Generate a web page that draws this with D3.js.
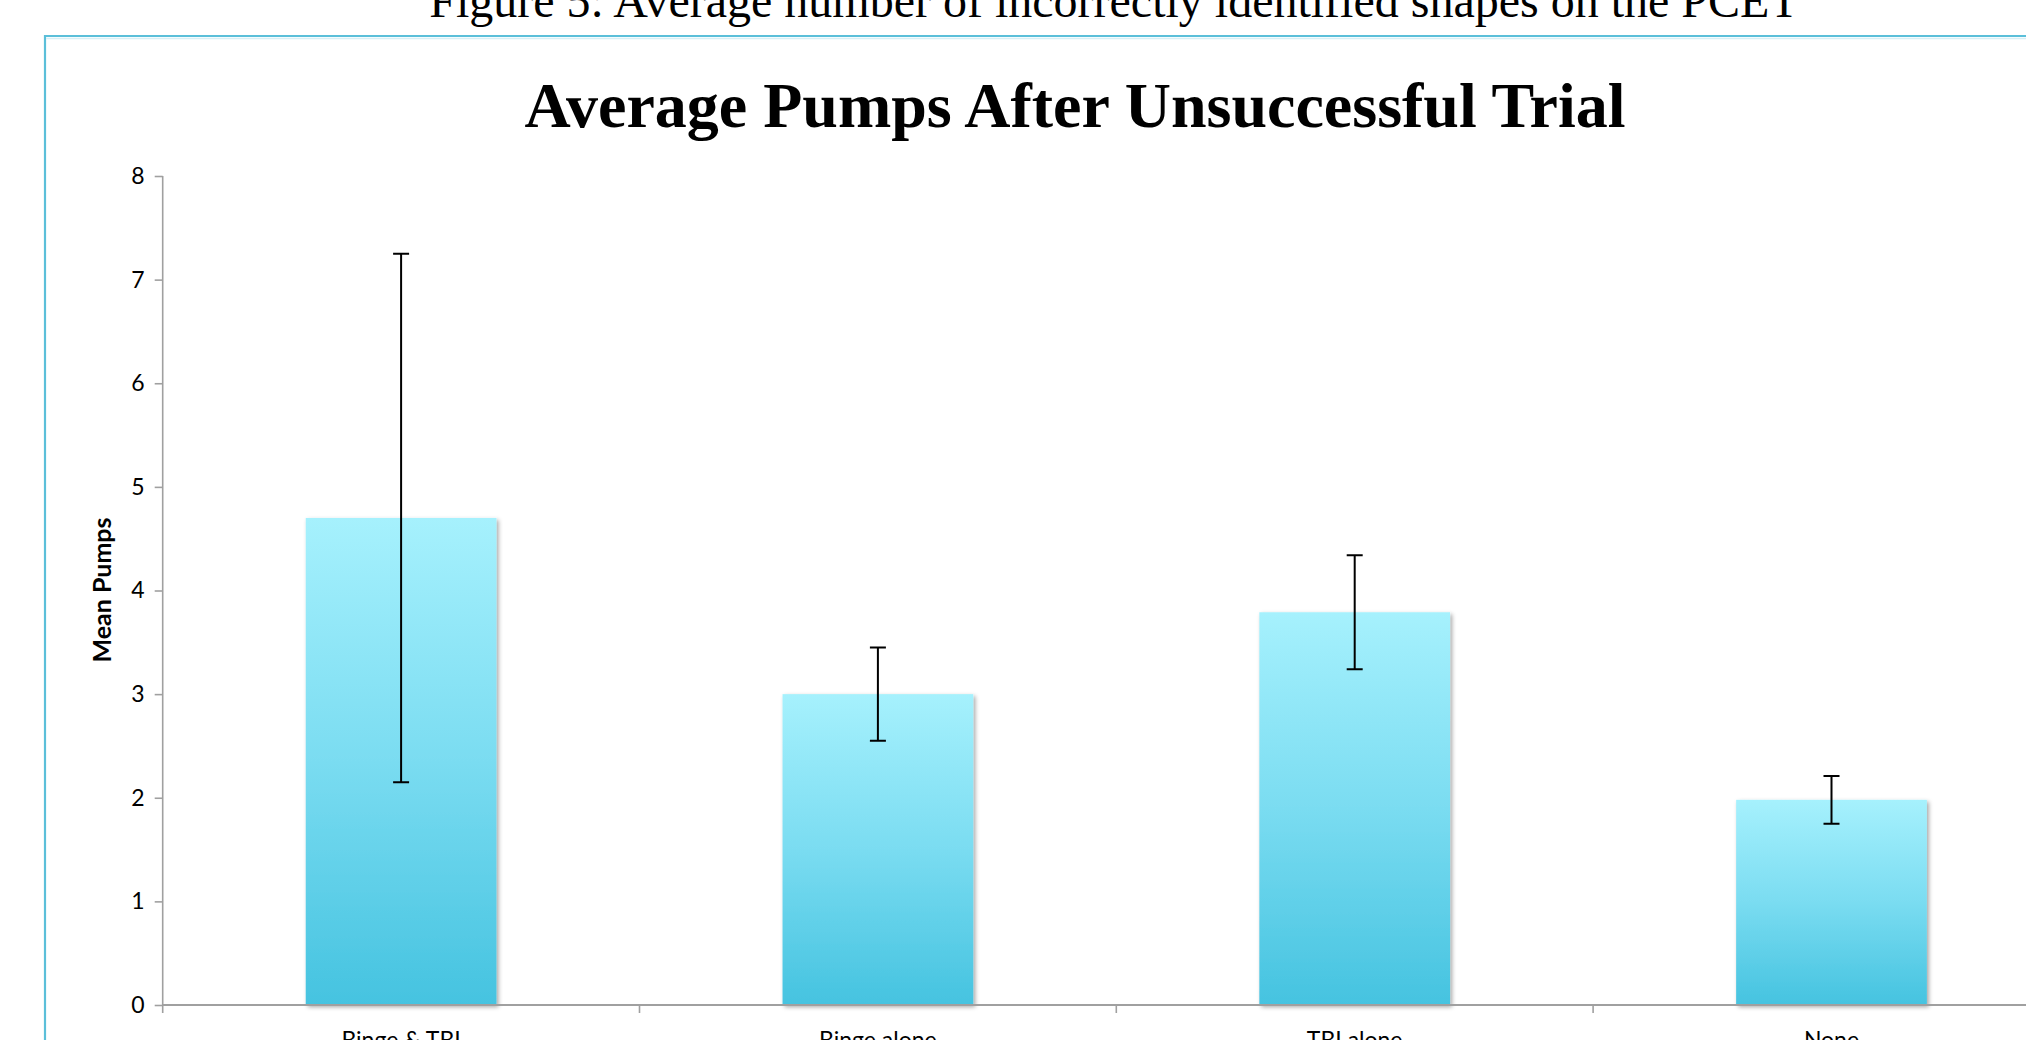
<!DOCTYPE html>
<html>
<head>
<meta charset="utf-8">
<script src="https://cdn.jsdelivr.net/npm/d3@7"></script>
<style>
  html, body { margin: 0; padding: 0; background: #fff; overflow: hidden; }
  #graphic { width: 2026px; height: 1040px; }
  .caption { font-family: "Liberation Serif", "Times New Roman", serif; }
  .tick-label, .cat-label, .y-title { font-family: Lato, "Open Sans", sans-serif; }
</style>
</head>
<body>
<div id="graphic"></div>
<script>
// Data
var categories = ['Binge & TBI', 'Binge alone', 'TBI alone', 'None'];
var means = [4.70, 3.0, 3.79, 1.98];
var errors = [2.55, 0.45, 0.55, 0.23];
var yTicks = [0, 1, 2, 3, 4, 5, 6, 7, 8];

var figureCaption = 'Figure 5: Average number of incorrectly identified shapes on the PCET';
var chartTitle = 'Average Pumps After Unsuccessful Trial';
var yTitle = 'Mean Pumps';

/*
 * Render the graphic.
 */
var render = function () {
  var width = 2026;
  var height = 1040;

  var plot = {
    left: 162.7,
    step: 476.8,
    top: 176,
    bottom: 1005
  };

  var containerElement = d3.select('#graphic');
  containerElement.html('');

  var svg = containerElement
    .append('svg')
    .attr('width', width)
    .attr('height', height);

  var defs = svg.append('defs');

  var grad = defs.append('linearGradient')
    .attr('id', 'barFill')
    .attr('x1', 0).attr('y1', 0)
    .attr('x2', 0).attr('y2', 1);
  grad.append('stop').attr('offset', '0%').attr('stop-color', '#a6f1fd');
  grad.append('stop').attr('offset', '50%').attr('stop-color', '#7adcf1');
  grad.append('stop').attr('offset', '100%').attr('stop-color', '#45c3e0');

  var shadow = defs.append('filter')
    .attr('id', 'barShadow')
    .attr('x', '-10%').attr('y', '-10%')
    .attr('width', '130%').attr('height', '130%');
  shadow.append('feDropShadow')
    .attr('dx', 2).attr('dy', 2)
    .attr('stdDeviation', 2)
    .attr('flood-color', '#000')
    .attr('flood-opacity', 0.35);

  // Figure caption (clipped at the top of the page)
  svg.append('text')
    .attr('class', 'caption')
    .attr('x', 1114)
    .attr('y', 17)
    .attr('text-anchor', 'middle')
    .style('font-size', '48px')
    .text(figureCaption);

  // Chart frame
  svg.append('path')
    .attr('d', 'M45,' + height + 'V36H' + width)
    .attr('fill', 'none')
    .attr('stroke', '#5bbfd9')
    .attr('stroke-width', 2.2);
  svg.append('line')
    .attr('x1', 46).attr('x2', width)
    .attr('y1', 38.5).attr('y2', 38.5)
    .attr('stroke', '#d6f0f6')
    .attr('stroke-width', 1.5);

  // Title
  svg.append('text')
    .attr('class', 'caption')
    .attr('x', 1075)
    .attr('y', 127)
    .attr('text-anchor', 'middle')
    .style('font-size', '64px')
    .style('font-weight', 'bold')
    .text(chartTitle);

  // Scales
  var x = d3.scaleBand()
    .domain(categories)
    .range([plot.left, plot.left + plot.step * categories.length])
    .paddingInner(0.6)
    .paddingOuter(0.3);

  var y = d3.scaleLinear()
    .domain([0, 8])
    .range([plot.bottom, plot.top]);

  // Bars
  var barLayer = svg.append('g');
  barLayer.selectAll('rect')
    .data(means)
    .enter().append('rect')
    .attr('x', function (d, i) { return x(categories[i]); })
    .attr('y', function (d) { return y(d); })
    .attr('width', x.bandwidth())
    .attr('height', function (d) { return y(0) - y(d); })
    .attr('fill', 'url(#barFill)')
    .attr('filter', 'url(#barShadow)');

  // Y axis
  var yAxis = svg.append('g')
    .attr('transform', 'translate(' + plot.left + ',0)')
    .call(d3.axisLeft(y).tickValues(yTicks).tickSize(8).tickPadding(10));
  yAxis.select('.domain')
    .attr('d', 'M0,' + plot.top + 'V' + (plot.bottom + 8))
    .attr('stroke', '#a0a0a0')
    .attr('stroke-width', 1.6);
  yAxis.selectAll('.tick line')
    .attr('stroke', '#a0a0a0')
    .attr('stroke-width', 1.6);
  yAxis.selectAll('.tick text')
    .attr('class', 'tick-label')
    .attr('fill', '#000')
    .style('font-size', '23px');

  // X axis: baseline with ticks on category boundaries
  var boundaries = d3.range(categories.length + 1).map(function (i) {
    return x.range()[0] + i * x.step();
  });
  var xAxis = svg.append('g');
  xAxis.append('line')
    .attr('x1', plot.left).attr('x2', x.range()[1])
    .attr('y1', y(0)).attr('y2', y(0))
    .attr('stroke', '#a0a0a0')
    .attr('stroke-width', 1.8);
  xAxis.selectAll('.xtick')
    .data(boundaries.slice(1))
    .enter().append('line')
    .attr('class', 'xtick')
    .attr('x1', function (d) { return d; })
    .attr('x2', function (d) { return d; })
    .attr('y1', y(0)).attr('y2', y(0) + 8)
    .attr('stroke', '#a0a0a0')
    .attr('stroke-width', 1.6);

  xAxis.selectAll('.cat-label')
    .data(categories)
    .enter().append('text')
    .attr('class', 'cat-label')
    .attr('x', function (d) { return x(d) + x.bandwidth() / 2; })
    .attr('y', 1048)
    .attr('text-anchor', 'middle')
    .style('font-size', '23px')
    .text(function (d) { return d; });

  // Error bars
  var capHalf = 8;
  var errLayer = svg.append('g')
    .attr('stroke', '#000')
    .attr('stroke-width', 2)
    .attr('fill', 'none');
  var errGroups = errLayer.selectAll('g')
    .data(means)
    .enter().append('g')
    .attr('transform', function (d, i) {
      return 'translate(' + (x(categories[i]) + x.bandwidth() / 2) + ',0)';
    });
  errGroups.append('path')
    .attr('d', function (d, i) {
      var hi = y(d + errors[i]);
      var lo = y(d - errors[i]);
      return 'M0,' + hi + 'V' + lo +
        'M' + (-capHalf) + ',' + hi + 'H' + capHalf +
        'M' + (-capHalf) + ',' + lo + 'H' + capHalf;
    });

  // Y axis title
  svg.append('text')
    .attr('class', 'y-title')
    .attr('transform', 'translate(111,590) rotate(-90)')
    .attr('text-anchor', 'middle')
    .style('font-size', '25px')
    .style('font-weight', 'bold')
    .text(yTitle);
};

window.onload = render;
</script>
</body>
</html>
